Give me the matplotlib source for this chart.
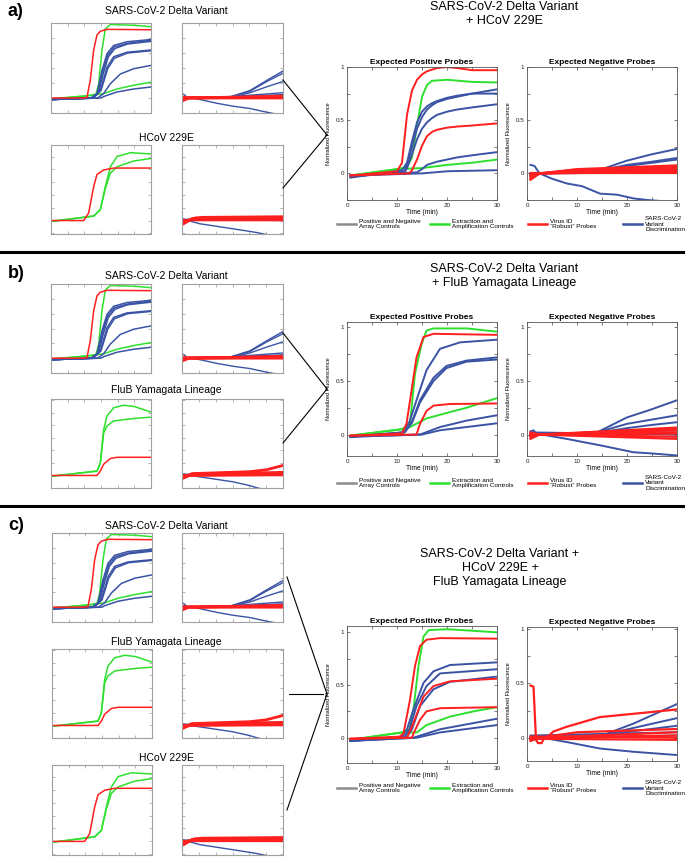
import matplotlib.pyplot as plt
from matplotlib.lines import Line2D
from matplotlib.ticker import MultipleLocator, FuncFormatter

plt.rcParams['font.family'] = ['Liberation Sans', 'DejaVu Sans']

RED = '#ff1f1f'
GREEN = '#2ee02e'
BLUE = '#3a53a4'
GRAY = '#8c8c8c'

# ---------- single-virus runs (small plots), (time min, signal) ----------
sars_pos_red = [[(0.5, 0), (10, 0), (10.8, 0.01), (11.8, 0.24), (12.8, 0.64), (13.8, 0.84), (14.8, 0.89), (16.8, 0.915), (30, 0.91)]]
sars_pos_green = [
    [(0.5, -0.01), (11, 0.03), (13.5, 0.05), (14.3, 0.19), (15.3, 0.64), (16.3, 0.92), (17.8, 0.98), (25, 0.97), (30, 0.95)],
    [(0.5, -0.01), (11, 0.03), (15.8, 0.06), (19.8, 0.12), (24.8, 0.17), (30, 0.21)],
]
sars_pos_blue = [
    [(0.5, -0.02), (12, 0.0), (13.8, 0.06), (15.3, 0.37), (16.8, 0.59), (18.8, 0.70), (22.8, 0.75), (30, 0.78)],
    [(0.5, -0.02), (12, 0.0), (14.0, 0.06), (15.5, 0.35), (17, 0.57), (19, 0.68), (23, 0.73), (30, 0.77)],
    [(0.5, -0.02), (12.2, 0.0), (14.2, 0.06), (15.7, 0.33), (17.2, 0.55), (19.2, 0.66), (23, 0.72), (30, 0.755)],
    [(0.5, -0.02), (12.5, 0.0), (14.8, 0.1), (16.8, 0.41), (18.8, 0.55), (22.8, 0.61), (30, 0.64)],
    [(0.5, -0.02), (12.7, 0.0), (15, 0.1), (17, 0.39), (19, 0.53), (23, 0.6), (30, 0.63)],
    [(0.5, -0.02), (14, 0.0), (15.8, 0.06), (17.8, 0.19), (20.8, 0.32), (24.8, 0.39), (30, 0.435)],
    [(0.5, -0.02), (15, 0.0), (15.8, 0.02), (19.8, 0.08), (24.8, 0.12), (30, 0.147)],
]
sars_neg_red = [
    [(0.5, -0.03), (2, 0.0), (30, 0.025)],
    [(0.5, -0.02), (2, 0.0), (30, 0.0)],
    [(0.5, 0.01), (2, 0.0), (30, 0.015)],
    [(0.5, -0.01), (2, 0.005), (30, 0.01)],
]
sars_neg_blue = [
    [(0.5, 0), (14, 0.01), (20.2, 0.1), (25.2, 0.235), (30, 0.36)],
    [(0.5, 0), (14, 0.01), (20.2, 0.09), (25.2, 0.22), (30, 0.33)],
    [(0.5, 0), (14.5, 0.01), (20.2, 0.07), (25.2, 0.15), (30, 0.22)],
    [(0.5, 0.05), (1.5, 0.01), (5.3, -0.02), (10.3, -0.07), (15.3, -0.11), (20.2, -0.14), (25.2, -0.19), (30, -0.23)],
    [(0.5, 0), (15, 0.02), (30, 0.07)],
    [(0.5, 0), (15, 0.015), (30, 0.045)],
]
hcov_pos_red = [[(0.5, 0), (9.8, 0), (11.3, 0.12), (12.8, 0.53), (13.8, 0.72), (15.8, 0.79), (18.8, 0.82), (30, 0.82)]]
hcov_pos_green = [
    [(0.5, -0.01), (12.8, 0.07), (14.8, 0.17), (16.3, 0.53), (17.8, 0.84), (19.8, 1.0), (23.8, 1.06), (30, 1.04)],
    [(0.5, -0.01), (12.8, 0.07), (14.8, 0.17), (16.3, 0.5), (17.8, 0.74), (19.8, 0.84), (24.8, 0.93), (30, 0.97)],
]
hcov_neg_red = [
    [(0.5, -0.05), (3, 0.03), (6, 0.05), (30, 0.06)],
    [(0.5, -0.03), (3, 0.02), (30, 0.03)],
    [(0.5, 0.0), (3, 0.01), (30, 0.01)],
    [(0.5, -0.02), (4, 0.04), (30, 0.045)],
]
hcov_neg_blue = [
    [(0.5, 0.02), (30, 0.0)],
    [(0.5, 0.0), (30, 0.03)],
    [(0.5, 0.02), (5.3, -0.05), (10.3, -0.09), (15.3, -0.13), (20.2, -0.17), (22.5, -0.19), (26, -0.23)],
]
flub_pos_red = [[(0.5, 0), (13.8, 0), (14.8, 0.07), (15.8, 0.18), (17.8, 0.27), (19.8, 0.29), (30, 0.29)]]
flub_pos_green = [
    [(0.5, -0.01), (13.8, 0.07), (14.8, 0.2), (15.8, 0.73), (16.8, 0.95), (18.8, 1.08), (21.8, 1.12), (25, 1.1), (30, 1.01)],
    [(0.5, -0.01), (13.8, 0.07), (14.8, 0.2), (15.8, 0.68), (16.8, 0.79), (18.8, 0.87), (25, 0.91), (30, 0.93)],
]
flub_neg_red = [
    [(0.5, -0.04), (3, 0.02), (30, 0.05)],
    [(0.5, -0.02), (3, 0.01), (30, 0.03)],
    [(0.5, 0.0), (3, 0.0), (30, 0.01)],
    [(0.5, -0.03), (3, 0.03), (20, 0.06), (25, 0.09), (30, 0.16)],
]
flub_neg_blue = [
    [(0.5, 0.02), (30, 0.0)],
    [(0.5, 0.01), (30, 0.02)],
    [(0.5, 0.02), (5, -0.02), (10, -0.06), (15, -0.1), (20, -0.16), (22.5, -0.2), (26, -0.24)],
]

# ---------- combined runs (large plots), normalized fluorescence ----------
a_pos_green = [
    [(0.7, -0.02), (10, 0.04), (12, 0.06), (13, 0.15), (14, 0.45), (15, 0.72), (16, 0.83), (17, 0.87), (20, 0.88), (25, 0.86), (30, 0.855)],
    [(0.7, -0.02), (10, 0.04), (15, 0.05), (20, 0.08), (25, 0.1), (30, 0.13)],
]
a_pos_red = [
    [(0.7, -0.02), (10, 0.02), (11, 0.1), (12, 0.55), (13, 0.78), (14, 0.88), (15, 0.93), (16, 0.96), (18, 0.99), (20, 1.0), (22, 0.99), (25, 0.97), (30, 0.97)],
    [(0.7, -0.02), (12.5, 0.0), (13, 0.03), (14, 0.13), (15, 0.26), (16, 0.35), (17, 0.39), (18, 0.41), (20, 0.43), (22, 0.44), (25, 0.45), (30, 0.47)],
]
a_pos_blue = [
    [(0.7, -0.04), (11, 0.03), (12, 0.1), (13, 0.3), (14, 0.48), (15, 0.58), (16, 0.63), (17, 0.66), (18, 0.68), (20, 0.71), (22, 0.73), (25, 0.75), (30, 0.79)],
    [(0.7, -0.03), (11.5, 0.02), (12, 0.08), (13, 0.25), (14, 0.42), (15, 0.53), (16, 0.6), (17, 0.64), (18, 0.67), (20, 0.7), (22, 0.72), (25, 0.75), (30, 0.75)],
    [(0.7, -0.03), (11.5, 0.01), (12, 0.05), (13, 0.18), (14, 0.32), (15, 0.42), (16, 0.48), (17, 0.52), (18, 0.55), (20, 0.58), (22, 0.6), (25, 0.62), (30, 0.65)],
    [(0.7, -0.02), (14, 0.01), (15, 0.04), (16, 0.08), (18, 0.11), (20, 0.13), (22, 0.15), (25, 0.17), (30, 0.2)],
    [(0.7, -0.02), (15, 0.0), (20, 0.02), (30, 0.03)],
]
a_neg_red = [
    [(0.7, -0.06), (2.5, 0.0), (10, 0.04), (30, 0.075)],
    [(0.7, -0.05), (2.5, 0.0), (10, 0.03), (30, 0.06)],
    [(0.7, -0.03), (2.5, 0.0), (30, 0.045)],
    [(0.7, -0.02), (2.5, 0.0), (30, 0.03)],
    [(0.7, -0.01), (2.5, 0.0), (30, 0.015)],
    [(0.7, 0.0), (2.5, 0.0), (30, 0.0)],
]
a_neg_blue = [
    [(0.7, 0), (12, 0.01), (15, 0.04), (20, 0.12), (25, 0.18), (30, 0.23)],
    [(0.7, 0), (13, 0.01), (15, 0.03), (20, 0.08), (25, 0.11), (30, 0.145)],
    [(0.7, 0), (13, 0.01), (15, 0.025), (20, 0.07), (25, 0.1), (30, 0.13)],
    [(0.7, 0.08), (1.5, 0.07), (2.5, 0.0), (5, -0.05), (8, -0.095), (11, -0.12), (14.6, -0.19), (18, -0.2), (21.3, -0.235), (24, -0.25), (30, -0.27)],
    [(0.7, -0.03), (3, 0), (30, 0.03)],
    [(0.7, -0.02), (3, 0), (30, 0.01)],
    [(0.7, 0.0), (30, 0.05)],
]
b_pos_green = [
    [(0.7, -0.01), (11, 0.05), (12.6, 0.1), (13.6, 0.57), (14.9, 0.84), (15.9, 0.97), (17.3, 0.99), (24, 0.99), (30, 0.96)],
    [(0.7, -0.01), (11, 0.05), (12.6, 0.07), (15.9, 0.15), (20.6, 0.21), (23.9, 0.25), (30, 0.34)],
]
b_pos_red = [
    [(0.7, -0.01), (11, 0.01), (11.9, 0.1), (12.9, 0.41), (13.9, 0.72), (15.3, 0.91), (17.3, 0.94), (30, 0.93)],
    [(0.7, -0.01), (13.9, 0.0), (14.6, 0.1), (15.9, 0.22), (17.3, 0.27), (20.6, 0.285), (30, 0.29)],
]
b_pos_blue = [
    [(0.7, -0.02), (11, 0.02), (12.5, 0.12), (13.9, 0.32), (15.9, 0.6), (18.6, 0.8), (22.6, 0.86), (30, 0.885)],
    [(0.7, -0.02), (11.5, 0.02), (13, 0.12), (14.6, 0.32), (17.3, 0.53), (19.9, 0.64), (23.9, 0.69), (30, 0.72)],
    [(0.7, -0.02), (11.5, 0.02), (13, 0.11), (14.6, 0.3), (17.3, 0.5), (19.9, 0.62), (23.9, 0.68), (30, 0.70)],
    [(0.7, -0.02), (14.6, 0.0), (18.6, 0.07), (23.9, 0.13), (30, 0.18)],
    [(0.7, -0.02), (15, 0.0), (18.6, 0.04), (30, 0.105)],
]
b_neg_red = [
    [(0.7, -0.04), (2.5, 0.0), (30, 0.065)],
    [(0.7, -0.02), (2.5, 0.0), (30, 0.05)],
    [(0.7, 0.02), (2.5, 0.0), (30, 0.04)],
    [(0.7, -0.01), (2.5, 0.0), (30, 0.02)],
    [(0.7, 0.01), (2.5, 0.0), (30, 0.01)],
    [(0.7, 0.0), (2.5, 0.0), (30, -0.02)],
    [(0.7, -0.02), (2.5, 0.0), (30, -0.04)],
]
b_neg_blue = [
    [(0.7, 0), (14, 0.02), (20, 0.16), (24.6, 0.23), (30, 0.32)],
    [(0.7, 0), (14, 0.02), (20, 0.1), (25, 0.14), (30, 0.18)],
    [(0.7, 0), (14, 0.015), (20, 0.06), (25, 0.09), (30, 0.115)],
    [(0.7, 0.03), (1.3, 0.04), (2, 0.0), (3, 0.0), (7.9, -0.04), (14.6, -0.1), (21.3, -0.165), (24.6, -0.175), (30, -0.195)],
    [(0.7, 0.0), (30, 0.02)],
    [(0.7, 0.02), (30, 0.0)],
]
c_pos_green = [
    [(0.7, -0.02), (11, 0.05), (12.5, 0.08), (13.3, 0.27), (14.3, 0.68), (15.3, 0.96), (16.3, 1.02), (20, 1.03), (30, 1.0)],
    [(0.7, -0.02), (11, 0.05), (14, 0.05), (15.9, 0.12), (20.6, 0.2), (25.3, 0.25), (30, 0.29)],
]
c_pos_red = [
    [(0.7, -0.01), (10.5, 0.01), (11.3, 0.04), (12.6, 0.36), (13.6, 0.68), (14.6, 0.87), (15.9, 0.93), (18.6, 0.945), (30, 0.94)],
    [(0.7, -0.01), (12, 0.0), (13.3, 0.14), (15.3, 0.39), (17.3, 0.49), (20.6, 0.535), (30, 0.56)],
    [(0.7, -0.01), (13, 0.0), (13.3, 0.04), (14.6, 0.17), (15.9, 0.25), (18.6, 0.28), (30, 0.29)],
]
c_pos_blue = [
    [(0.7, -0.03), (11, 0.01), (12, 0.08), (13.3, 0.27), (15.3, 0.52), (17.3, 0.63), (20.6, 0.69), (30, 0.715)],
    [(0.7, -0.03), (11.5, 0.01), (12.5, 0.08), (13.9, 0.3), (15.9, 0.49), (18.6, 0.61), (30, 0.65)],
    [(0.7, -0.03), (12, 0.01), (13, 0.08), (14.6, 0.3), (17.3, 0.46), (20.6, 0.53), (30, 0.58)],
    [(0.7, -0.03), (13.3, 0.0), (18.6, 0.08), (30, 0.18)],
    [(0.7, -0.03), (14, 0.0), (18.6, 0.05), (30, 0.12)],
]
c_neg_red = [
    [(0.7, 0.48), (1.3, 0.47), (1.8, -0.02), (2.2, -0.05), (2.9, -0.05), (3.5, 0.0), (4, 0.0), (5.2, 0.055), (7.9, 0.1), (14.6, 0.19), (21.3, 0.22), (30, 0.26)],
    [(0.7, -0.03), (2.5, 0.0), (10, 0.05), (30, 0.08)],
    [(0.7, -0.02), (2.5, 0.0), (30, 0.05)],
    [(0.7, 0.0), (30, 0.02)],
    [(0.7, 0.01), (30, 0.0)],
    [(0.7, -0.01), (30, -0.02)],
]
c_neg_blue = [
    [(0.7, 0.0), (15, 0.02), (21.3, 0.13), (30, 0.31)],
    [(0.7, 0.0), (15, 0.02), (21.3, 0.09), (30, 0.18)],
    [(0.7, 0.0), (15, 0.02), (21.3, 0.06), (30, 0.11)],
    [(0.7, 0.0), (3, 0.0), (7.9, -0.04), (14.6, -0.1), (21.3, -0.13), (30, -0.16)],
    [(0.7, 0.02), (30, 0.05)],
    [(0.7, -0.01), (30, 0.02)],
]

legend_labels = ['Positive and Negative\nArray Controls', 'Extraction and\nAmplification Controls',
                 'Virus ID\n\u201cRobust\u201d Probes', 'SARS-CoV-2\nVariant\nDiscrimination']
legend_colors = [GRAY, GREEN, RED, BLUE]

W, H = 685, 857
fig = plt.figure(figsize=(W / 100, H / 100), dpi=100)


def px_axes(x0, y0, x1, y1):
    return fig.add_axes([x0 / W, 1 - y1 / H, (x1 - x0) / W, (y1 - y0) / H])


def draw(ax, curves, color, lw):
    for c in curves:
        t, y = zip(*c)
        ax.plot(t, y, color=color, lw=lw, solid_joinstyle='round')


def small(box, groups, ylim):
    ax = px_axes(*box)
    for curves, color, lw in groups:
        draw(ax, curves, color, lw)
    ax.set_xlim(0, 30)
    ax.set_ylim(*ylim)
    ax.xaxis.set_major_locator(MultipleLocator(5))
    ax.yaxis.set_major_locator(MultipleLocator(0.2))
    ax.tick_params(direction='in', length=2, width=0.5, colors='#999999',
                   top=True, right=True, labelbottom=False, labelleft=False)
    for s in ax.spines.values():
        s.set_color('#a0a0a0')
        s.set_linewidth(0.8)
    return ax


def big(box, groups, ylim, title):
    ax = px_axes(*box)
    for curves, color, lw in groups:
        draw(ax, curves, color, lw)
    ax.set_xlim(0, 30)
    ax.set_ylim(*ylim)
    ax.xaxis.set_major_locator(MultipleLocator(5))
    ax.yaxis.set_major_locator(MultipleLocator(0.25))
    ax.xaxis.set_major_formatter(FuncFormatter(lambda v, p: '%d' % v if v % 10 == 0 else ''))
    ax.yaxis.set_major_formatter(FuncFormatter(lambda v, p: ('%g' % v) if abs(v * 2 - round(v * 2)) < 1e-6 and v >= 0 else ''))
    ax.tick_params(direction='in', length=2, width=0.5, labelsize=4.5, pad=2,
                   top=True, right=True, colors='#444444', labelcolor='#222222')
    for s in ax.spines.values():
        s.set_color('#555555')
        s.set_linewidth(0.6)
    ax.set_title(title, fontsize=6, fontweight='bold', pad=2)
    ax.set_xlabel('Time (min)', fontsize=4.8, labelpad=1)
    ax.set_ylabel('Normalized Fluorescence', fontsize=4, labelpad=3)
    return ax


def legend_row(y):
    xs = [337, 430, 528, 623]
    for x, lab, col in zip(xs, legend_labels, legend_colors):
        fig.add_artist(Line2D([x / W, (x + 19) / W], [1 - y / H, 1 - y / H], color=col, lw=1.8))
        fig.text((x + 22) / W, 1 - y / H, lab, fontsize=4.6, va='center', ha='left', linespacing=1.15)


def seg(p, q):
    fig.add_artist(Line2D([p[0] / W, q[0] / W], [1 - p[1] / H, 1 - q[1] / H], color='black', lw=0.8))


def label(x, y, s, **kw):
    fig.text(x / W, 1 - y / H, s, ha='center', va='center', **kw)


sars_pos = [(sars_pos_green, GREEN, 1.1), (sars_pos_blue, BLUE, 1.1), (sars_pos_red, RED, 1.1)]
sars_neg = [(sars_neg_blue, BLUE, 1.0), (sars_neg_red, RED, 2.0)]
hcov_pos = [(hcov_pos_green, GREEN, 1.1), (hcov_pos_red, RED, 1.1)]
hcov_neg = [(hcov_neg_blue, BLUE, 1.0), (hcov_neg_red, RED, 2.0)]
flub_pos = [(flub_pos_green, GREEN, 1.1), (flub_pos_red, RED, 1.1)]
flub_neg = [(flub_neg_blue, BLUE, 1.0), (flub_neg_red, RED, 2.0)]
SY = (-0.2, 1.0)
HY = (-0.21, 1.18)
FY = (-0.2, 1.22)

# ---------------- panel a ----------------
fig.text(8 / W, 1 - 11 / H, 'a)', fontsize=13, fontweight='bold', va='center')
label(166, 11, 'SARS-CoV-2 Delta Variant', fontsize=7.5)
small((51, 23, 151, 113), sars_pos, SY)
small((182, 23, 283, 113), sars_neg, SY)
label(166, 138, 'HCoV 229E', fontsize=7.5)
small((51, 145, 151, 234), hcov_pos, HY)
small((182, 145, 283, 234), hcov_neg, HY)
label(504, 14, 'SARS-CoV-2 Delta Variant\n+ HCoV 229E', fontsize=9, linespacing=1.25)
big((347, 67, 497, 200), [(a_pos_green, GREEN, 1.4), (a_pos_blue, BLUE, 1.4), (a_pos_red, RED, 1.4)],
    (-0.25, 1.0), 'Expected Positive Probes')
big((527, 67, 677, 200), [(a_neg_blue, BLUE, 1.4), (a_neg_red, RED, 1.6)],
    (-0.25, 1.0), 'Expected Negative Probes')
legend_row(224)
seg((283, 80), (327, 135))
seg((283, 188), (327, 135))

fig.add_artist(Line2D([0, 1], [1 - 252 / H, 1 - 252 / H], color='black', lw=2.2))

# ---------------- panel b ----------------
fig.text(8 / W, 1 - 274 / H, 'b)', fontsize=13, fontweight='bold', va='center')
label(166, 276, 'SARS-CoV-2 Delta Variant', fontsize=7.5)
small((51, 284, 151, 373), sars_pos, SY)
small((182, 284, 283, 373), sars_neg, SY)
label(166, 390, 'FluB Yamagata Lineage', fontsize=7.5)
small((51, 399, 151, 488), flub_pos, FY)
small((182, 399, 283, 488), flub_neg, FY)
label(504, 276, 'SARS-CoV-2 Delta Variant\n+ FluB Yamagata Lineage', fontsize=9, linespacing=1.25)
big((347, 322, 497, 456), [(b_pos_green, GREEN, 1.4), (b_pos_blue, BLUE, 1.4), (b_pos_red, RED, 1.4)],
    (-0.2, 1.05), 'Expected Positive Probes')
big((527, 322, 677, 456), [(b_neg_blue, BLUE, 1.4), (b_neg_red, RED, 1.6)],
    (-0.2, 1.05), 'Expected Negative Probes')
legend_row(483)
seg((283, 333), (327, 389))
seg((283, 443), (327, 389))

fig.add_artist(Line2D([0, 1], [1 - 506 / H, 1 - 506 / H], color='black', lw=2.2))

# ---------------- panel c ----------------
fig.text(8 / W, 1 - 526 / H, 'c)', fontsize=13, fontweight='bold', va='center')
label(166, 526, 'SARS-CoV-2 Delta Variant', fontsize=7.5)
small((52, 533, 152, 622), sars_pos, SY)
small((182, 533, 283, 622), sars_neg, SY)
label(166, 642, 'FluB Yamagata Lineage', fontsize=7.5)
small((52, 649, 152, 738), flub_pos, FY)
small((182, 649, 283, 738), flub_neg, FY)
label(166, 758, 'HCoV 229E', fontsize=7.5)
small((52, 765, 152, 855), hcov_pos, HY)
small((182, 765, 283, 855), hcov_neg, HY)
label(500, 568, 'SARS-CoV-2 Delta Variant +\nHCoV 229E +\nFluB Yamagata Lineage', fontsize=9, linespacing=1.25)
big((347, 626, 497, 763), [(c_pos_green, GREEN, 1.4), (c_pos_blue, BLUE, 1.4), (c_pos_red, RED, 1.4)],
    (-0.24, 1.06), 'Expected Positive Probes')
big((527, 627, 677, 761), [(c_neg_blue, BLUE, 1.4), (c_neg_red, RED, 1.6)],
    (-0.215, 1.02), 'Expected Negative Probes')
legend_row(788)
seg((287, 577), (327, 694))
seg((289, 694), (323, 694))
seg((287, 810), (327, 694))

fig.savefig('out.png', dpi=100)
